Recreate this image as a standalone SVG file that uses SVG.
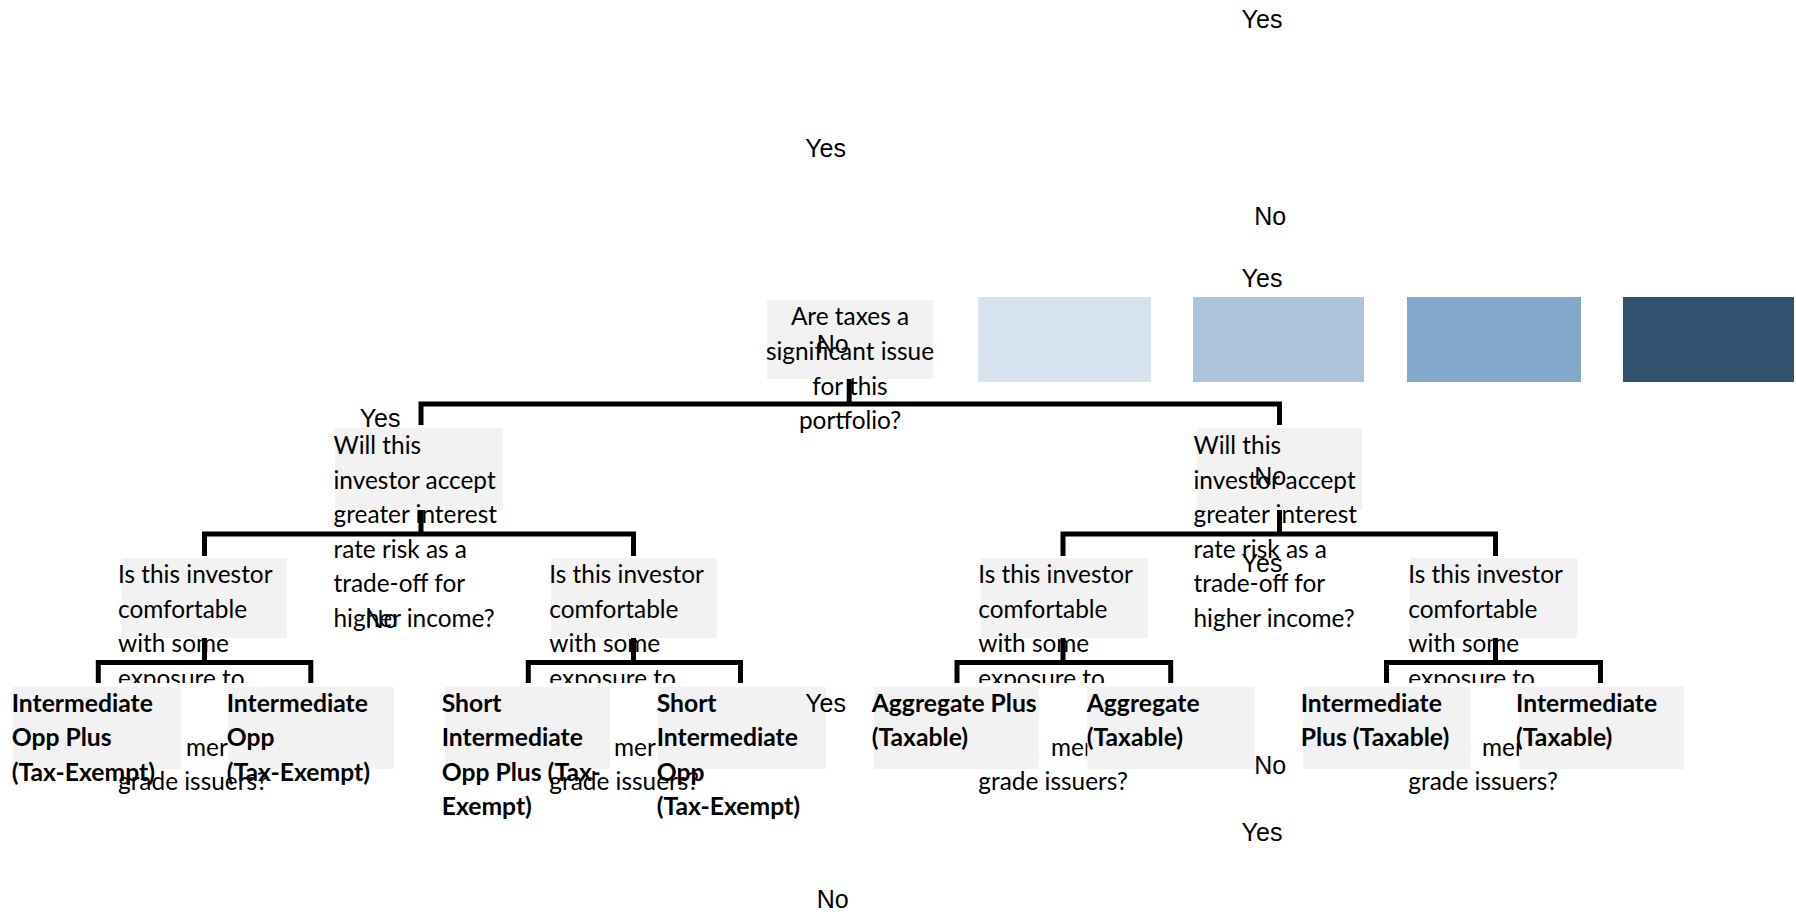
<svg xmlns="http://www.w3.org/2000/svg" width="1796" height="912" viewBox="0 0 1796 912">
<style>
.box{fill:#F2F2F2}
.q{font-family:Lato,"Open Sans",sans-serif;font-size:24.4px;fill:#000}
.lf{font-family:Lato,"Open Sans",sans-serif;font-size:24.7px;font-weight:bold;fill:#000}
.lbl{font-family:"Liberation Sans",Arial,sans-serif;font-size:25px;fill:#000}
.conn{fill:none;stroke:#000;stroke-width:5;stroke-linejoin:miter;stroke-linecap:butt}
.wipe{fill:#FFFFFF}
</style>
<rect width="1796" height="912" fill="#FFFFFF"/>
<g id="legend">
<rect x="978" y="297" width="173" height="85" fill="#D6E2EE"/>
<rect x="1193" y="297" width="171" height="85" fill="#ADC4DC"/>
<rect x="1407" y="297" width="174" height="85" fill="#84A8CA"/>
<rect x="1623" y="297" width="171" height="85" fill="#31526F"/>
</g>
<g id="connectors">
<path class="conn" d="M849.2,379 V404 M421,425 V404 H1279.5 V425"/>
<path class="conn" d="M421,510 V534 M204.5,556 V534 H633.5 V556"/>
<path class="conn" d="M1279.5,510 V534 M1063,556 V534 H1495.5 V556"/>
<path class="conn" d="M204.5,638 V662.5 M98.3,683 V662.5 H310.8 V683"/>
<path class="conn" d="M633.5,638 V662.5 M528.3,683 V662.5 H740.5 V683"/>
<path class="conn" d="M1063,638 V662.5 M957,683 V662.5 H1170.7 V683"/>
<path class="conn" d="M1495.5,638 V662.5 M1386.5,683 V662.5 H1600.5 V683"/>
</g>
<g id="root">
<rect class="box" x="767" y="300" width="166" height="79"/>
<text class="q" text-anchor="middle"><tspan x="850" y="325">Are taxes a</tspan><tspan x="850" y="360">significant issue</tspan><tspan x="850" y="394.5">for this</tspan><tspan x="850" y="429">portfolio?</tspan></text>
</g>
<g id="q-rate-left">
<rect class="box" x="335" y="428" width="168" height="82"/>
<text class="q"><tspan x="333.5" y="454">Will this</tspan><tspan x="333.5" y="488.5">investor accept</tspan><tspan x="333.5" y="523">greater interest</tspan><tspan x="333.5" y="557.5">rate risk as a</tspan><tspan x="333.5" y="592">trade-off for</tspan><tspan x="333.5" y="626.5">higher income?</tspan></text>
</g>
<g id="q-rate-right">
<rect class="box" x="1197" y="428" width="165" height="82"/>
<text class="q"><tspan x="1193.5" y="454">Will this</tspan><tspan x="1193.5" y="488.5">investor accept</tspan><tspan x="1193.5" y="523">greater interest</tspan><tspan x="1193.5" y="557.5">rate risk as a</tspan><tspan x="1193.5" y="592">trade-off for</tspan><tspan x="1193.5" y="626.5">higher income?</tspan></text>
</g>
<g id="q-exp-1">
<rect class="box" x="121.7" y="558" width="165.3" height="80"/>
<text class="q"><tspan x="118" y="583">Is this investor</tspan><tspan x="118" y="617.5">comfortable</tspan><tspan x="118" y="652">with some</tspan><tspan x="118" y="686.5">exposure to</tspan></text>
<rect class="wipe" x="110" y="683" width="160" height="53"/>
<text class="q"><tspan x="186" y="755.5">mer</tspan><tspan x="118" y="790">grade issuers?</tspan></text>
</g>
<g id="q-exp-2">
<rect class="box" x="551" y="558" width="165.7" height="80"/>
<text class="q"><tspan x="549.3" y="583">Is this investor</tspan><tspan x="549.3" y="617.5">comfortable</tspan><tspan x="549.3" y="652">with some</tspan><tspan x="549.3" y="686.5">exposure to</tspan></text>
<rect class="wipe" x="541" y="683" width="160" height="53"/>
<text class="q"><tspan x="614" y="755.5">mer</tspan><tspan x="549.3" y="790">grade issuers?</tspan></text>
</g>
<g id="q-exp-3">
<rect class="box" x="980.7" y="558" width="167.3" height="80"/>
<text class="q"><tspan x="978.3" y="583">Is this investor</tspan><tspan x="978.3" y="617.5">comfortable</tspan><tspan x="978.3" y="652">with some</tspan><tspan x="978.3" y="686.5">exposure to</tspan></text>
<rect class="wipe" x="970" y="683" width="160" height="53"/>
<text class="q"><tspan x="1051" y="755.5">mer</tspan><tspan x="978.3" y="790">grade issuers?</tspan></text>
</g>
<g id="q-exp-4">
<rect class="box" x="1410" y="558" width="167.7" height="80"/>
<text class="q"><tspan x="1408.3" y="583">Is this investor</tspan><tspan x="1408.3" y="617.5">comfortable</tspan><tspan x="1408.3" y="652">with some</tspan><tspan x="1408.3" y="686.5">exposure to</tspan></text>
<rect class="wipe" x="1400" y="683" width="160" height="53"/>
<text class="q"><tspan x="1482" y="755.5">mer</tspan><tspan x="1408.3" y="790">grade issuers?</tspan></text>
</g>
<g id="leaf-int-opp-plus-te">
<rect class="box" x="12.7" y="686.7" width="168" height="82.3"/>
<text class="lf"><tspan x="11.7" y="711.7">Intermediate</tspan><tspan x="11.7" y="746.2">Opp Plus</tspan><tspan x="11.7" y="780.7">(Tax-Exempt)</tspan></text>
</g>
<g id="leaf-int-opp-te">
<rect class="box" x="228.3" y="686.7" width="165.7" height="82.3"/>
<text class="lf"><tspan x="226.7" y="711.7">Intermediate</tspan><tspan x="226.7" y="746.2">Opp</tspan><tspan x="226.7" y="780.7">(Tax-Exempt)</tspan></text>
</g>
<g id="leaf-short-int-opp-plus-te">
<rect class="box" x="445" y="686.7" width="165" height="82.3"/>
<text class="lf"><tspan x="441.7" y="711.7">Short</tspan><tspan x="441.7" y="746.2">Intermediate</tspan><tspan x="441.7" y="780.7">Opp Plus (Tax-</tspan><tspan x="441.7" y="815.2">Exempt)</tspan></text>
</g>
<g id="leaf-short-int-opp-te">
<rect class="box" x="657.7" y="686.7" width="168.3" height="82.3"/>
<text class="lf"><tspan x="656.7" y="711.7">Short</tspan><tspan x="656.7" y="746.2">Intermediate</tspan><tspan x="656.7" y="780.7">Opp</tspan><tspan x="656.7" y="815.2">(Tax-Exempt)</tspan></text>
</g>
<g id="leaf-agg-plus-tx">
<rect class="box" x="874" y="686.7" width="165" height="82.3"/>
<text class="lf"><tspan x="871.7" y="711.7">Aggregate Plus</tspan><tspan x="871.7" y="746.2">(Taxable)</tspan></text>
</g>
<g id="leaf-agg-tx">
<rect class="box" x="1087.3" y="686.7" width="167.7" height="82.3"/>
<text class="lf"><tspan x="1086.7" y="711.7">Aggregate</tspan><tspan x="1086.7" y="746.2">(Taxable)</tspan></text>
</g>
<g id="leaf-int-plus-tx">
<rect class="box" x="1303.3" y="686.7" width="167.7" height="82.3"/>
<text class="lf"><tspan x="1300.7" y="711.7">Intermediate</tspan><tspan x="1300.7" y="746.2">Plus (Taxable)</tspan></text>
</g>
<g id="leaf-int-tx">
<rect class="box" x="1519.3" y="686.7" width="165" height="82.3"/>
<text class="lf"><tspan x="1516" y="711.7">Intermediate</tspan><tspan x="1516" y="746.2">(Taxable)</tspan></text>
</g>
<g id="labels">
<text class="lbl" x="1241.6" y="28">Yes</text>
<text class="lbl" x="805.2" y="156.5">Yes</text>
<text class="lbl" x="1254.2" y="225">No</text>
<text class="lbl" x="1241.6" y="287">Yes</text>
<text class="lbl" x="816.7" y="353.3">No</text>
<text class="lbl" x="359.7" y="427">Yes</text>
<text class="lbl" x="1254.2" y="485">No</text>
<text class="lbl" x="1241.6" y="572">Yes</text>
<text class="lbl" x="365.4" y="628.2">No</text>
<text class="lbl" x="805.2" y="711.8">Yes</text>
<text class="lbl" x="1254.2" y="773.6">No</text>
<text class="lbl" x="1241.6" y="841.2">Yes</text>
<text class="lbl" x="816.7" y="907.6">No</text>
</g>
</svg>
